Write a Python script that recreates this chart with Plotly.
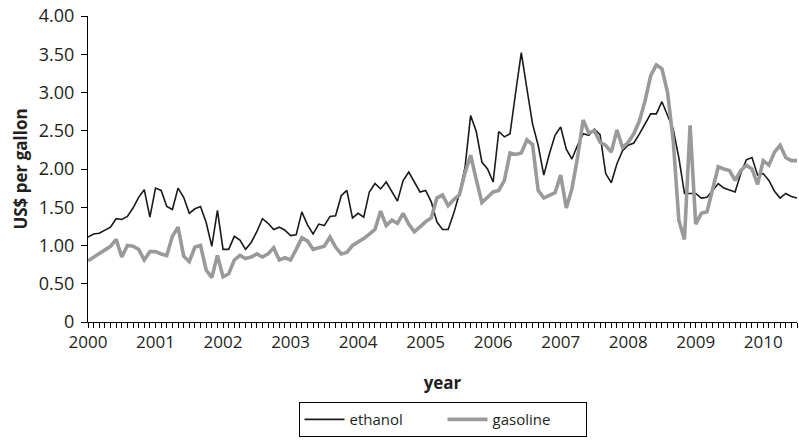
import plotly.graph_objects as go

# Monthly prices, Jan 2000 .. Jul 2010 (US$ per gallon)
years = ["2000", "2001", "2002", "2003", "2004", "2005", "2006", "2007", "2008", "2009", "2010"]

ethanol = [
    1.11, 1.15, 1.16, 1.20, 1.24, 1.35, 1.34, 1.38, 1.49, 1.63, 1.73, 1.37,  # 2000
    1.75, 1.72, 1.51, 1.47, 1.75, 1.63, 1.42, 1.48, 1.51, 1.30, 0.99, 1.46,  # 2001
    0.95, 0.95, 1.12, 1.07, 0.95, 1.04, 1.18, 1.35, 1.29, 1.21, 1.24, 1.20,  # 2002
    1.13, 1.14, 1.44, 1.27, 1.15, 1.28, 1.26, 1.38, 1.39, 1.65, 1.72, 1.36,  # 2003
    1.42, 1.37, 1.70, 1.81, 1.74, 1.83, 1.70, 1.58, 1.85, 1.96, 1.83, 1.70,  # 2004
    1.72, 1.57, 1.31, 1.21, 1.21, 1.42, 1.68, 2.02, 2.70, 2.49, 2.09, 2.00,  # 2005
    1.83, 2.49, 2.42, 2.46, 3.00, 3.52, 3.05, 2.59, 2.31, 1.92, 2.20, 2.44,  # 2006
    2.55, 2.26, 2.13, 2.31, 2.46, 2.44, 2.52, 2.45, 1.94, 1.82, 2.07, 2.24,  # 2007
    2.31, 2.34, 2.46, 2.59, 2.72, 2.72, 2.88, 2.70, 2.52, 2.15, 1.68, 1.68,  # 2008
    1.68, 1.62, 1.63, 1.72, 1.81, 1.75, 1.73, 1.70, 1.94, 2.12, 2.15, 1.92,  # 2009
    1.94, 1.85, 1.71, 1.62, 1.68, 1.64, 1.62,                                # 2010
]

gasoline = [
    0.80, 0.85, 0.89, 0.95, 0.99, 1.08, 0.85, 1.00, 0.99, 0.95, 0.81, 0.92,  # 2000
    0.92, 0.89, 0.87, 1.12, 1.24, 0.86, 0.79, 0.98, 1.00, 0.68, 0.58, 0.87,  # 2001
    0.59, 0.63, 0.81, 0.87, 0.83, 0.85, 0.89, 0.85, 0.89, 0.97, 0.81, 0.84,  # 2002
    0.81, 0.95, 1.10, 1.06, 0.95, 0.97, 0.99, 1.11, 0.98, 0.89, 0.91, 1.00,  # 2003
    1.04, 1.09, 1.15, 1.21, 1.45, 1.26, 1.33, 1.29, 1.42, 1.28, 1.18, 1.25,  # 2004
    1.31, 1.36, 1.62, 1.66, 1.52, 1.60, 1.66, 1.95, 2.18, 1.86, 1.56, 1.63,  # 2005
    1.70, 1.72, 1.85, 2.21, 2.19, 2.21, 2.38, 2.32, 1.72, 1.62, 1.65, 1.69,  # 2006
    1.92, 1.49, 1.74, 2.15, 2.64, 2.47, 2.50, 2.35, 2.31, 2.22, 2.51, 2.28,  # 2007
    2.35, 2.46, 2.63, 2.89, 3.22, 3.36, 3.31, 3.00, 2.37, 1.33, 1.08, 2.57,  # 2008
    1.28, 1.42, 1.44, 1.73, 2.03, 2.00, 1.98, 1.85, 1.98, 2.05, 2.00, 1.80,  # 2009
    2.11, 2.05, 2.22, 2.31, 2.15, 2.11, 2.11,                                # 2010
]

y_ticks = [0, 0.5, 1.0, 1.5, 2.0, 2.5, 3.0, 3.5, 4.0]
y_labels = ["0", "0.50", "1.00", "1.50", "2.00", "2.50", "3.00", "3.50", "4.00"]

months = list(range(len(ethanol)))
year_ticks = [12 * i for i in range(len(years))]

FONT = "Open Sans"
INK = "#231f20"

fig = go.Figure()
fig.add_trace(go.Scatter(x=months, y=ethanol, mode="lines", name="ethanol",
                         line=dict(color="#1a1a1a", width=1.6)))
fig.add_trace(go.Scatter(x=months, y=gasoline, mode="lines", name="gasoline",
                         line=dict(color="#9a9a9a", width=3.6)))

fig.update_layout(
    width=799, height=440,
    margin=dict(l=88, r=2, t=16, b=118, autoexpand=False),
    paper_bgcolor="white", plot_bgcolor="white",
    font=dict(family=FONT, size=18, color=INK),
    showlegend=True,
    legend=dict(orientation="h", x=0.5, xanchor="center", y=-0.262, yanchor="top",
                bordercolor="black", borderwidth=1, font=dict(size=15, color=INK),
                bgcolor="white", itemwidth=40, traceorder="normal",
                entrywidth=88, entrywidthmode="pixels",
                tracegroupgap=0, indentation=0),
    xaxis=dict(
        range=[0, len(ethanol) - 1], tickmode="array", tickvals=year_ticks, ticktext=years,
        showgrid=False, zeroline=False, showline=True, linecolor="black", linewidth=1,
        ticks="outside", ticklen=5, tickcolor="black", tickwidth=1, automargin=False,
        minor=dict(ticks="outside", dtick=1, tick0=0, ticklen=5, tickcolor="black", tickwidth=1, showgrid=False),
        tickfont=dict(size=17, color=INK),
        title=dict(text="year", font=dict(size=17, weight="bold", color=INK), standoff=24),
    ),
    yaxis=dict(
        range=[0, 4], tickmode="array", tickvals=y_ticks, ticktext=y_labels,
        showgrid=False, zeroline=False, showline=True, linecolor="black", linewidth=1,
        ticks="outside", ticklen=6, tickcolor="black", tickwidth=1, automargin=False,
        tickfont=dict(size=18, color=INK), ticklabelstandoff=3,
        title=dict(text="US$ per gallon", font=dict(size=17, weight="bold", color=INK), standoff=6),
    ),
)

fig.write_html("out.html", config={"displayModeBar": False},
               post_script="document.body.style.margin='0';")
